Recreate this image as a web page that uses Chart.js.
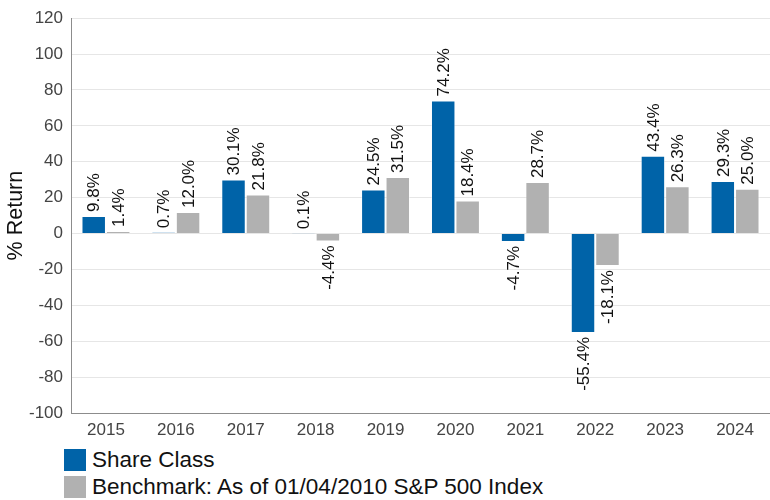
<!DOCTYPE html>
<html>
<head>
<meta charset="utf-8">
<script src="https://cdn.jsdelivr.net/npm/chart.js@4"></script>
<style>
  body { margin: 0; background: #fff; overflow: hidden; font-family: "Liberation Sans", Arial, sans-serif; }
  #legend { margin: 9px 0 0 64px; }
  .item { display: flex; align-items: center; height: 22px; margin-bottom: 5px; font-size: 22.5px; color: #111; }
  .box { width: 22px; height: 22px; margin-right: 6px; flex: none; }
</style>
</head>
<body>
<canvas id="returns-chart" width="770" height="440"></canvas>
<div id="legend"></div>
<script>
// categories and series
const years = ["2015", "2016", "2017", "2018", "2019", "2020", "2021", "2022", "2023", "2024"];
const shareClass = [9.8, 0.7, 30.1, 0.1, 24.5, 74.2, -4.7, -55.4, 43.4, 29.3];
const benchmark = [1.4, 12.0, 21.8, -4.4, 31.5, 18.4, 28.7, -18.1, 26.3, 25.0];
const seriesNames = ["Share Class", "Benchmark: As of 01/04/2010 S&P 500 Index"];
const seriesColors = ["#0063a8", "#b1b1b1"];

// rotated value labels at the end of each bar
const barLabels = {
    id: 'barLabels',
    afterDatasetsDraw(chart) {
        const ctx = chart.ctx;
        ctx.save();
        ctx.font = '17px "Liberation Sans", Arial, sans-serif';
        ctx.fillStyle = '#111';
        ctx.textBaseline = 'middle';
        chart.data.datasets.forEach((ds, i) => {
            chart.getDatasetMeta(i).data.forEach((bar, j) => {
                const v = ds.data[j];
                const txt = v.toFixed(1) + '%';
                ctx.save();
                if (v >= 0) {
                    ctx.translate(bar.x, bar.y - 4);
                    ctx.rotate(-Math.PI / 2);
                    ctx.textAlign = 'left';
                } else {
                    ctx.translate(bar.x, bar.y + 4);
                    ctx.rotate(-Math.PI / 2);
                    ctx.textAlign = 'right';
                }
                ctx.fillText(txt, 0, 1);
                ctx.restore();
            });
        });
        ctx.restore();
    }
};

const font = '"Liberation Sans", Arial, sans-serif';

const chart = new Chart(document.getElementById('returns-chart'), {
    type: 'bar',
    data: {
        labels: years,
        datasets: [{
            label: seriesNames[0],
            data: shareClass,
            backgroundColor: seriesColors[0],
            borderColor: 'rgba(255,255,255,0.45)',
            borderWidth: 1,
            categoryPercentage: 0.7,
            barPercentage: 1.0
        }, {
            label: seriesNames[1],
            data: benchmark,
            backgroundColor: seriesColors[1],
            borderColor: 'rgba(255,255,255,0.45)',
            borderWidth: 1,
            categoryPercentage: 0.7,
            barPercentage: 1.0
        }]
    },
    options: {
        responsive: false,
        animation: false,
        layout: { padding: { top: 14, right: 0, left: 0, bottom: 0 } },
        plugins: {
            legend: { display: false },
            tooltip: { enabled: false }
        },
        scales: {
            x: {
                grid: { display: false, drawTicks: false },
                border: { color: '#8c8c8c' },
                ticks: { color: '#444', font: { family: font, size: 17 }, padding: 7 },
                afterFit: s => { s.height = 27; }
            },
            y: {
                min: -100,
                max: 120,
                ticks: { stepSize: 20, color: '#444', font: { family: font, size: 17 }, padding: 8 },
                grid: { color: '#e6e6e6', drawTicks: false },
                border: { color: '#8c8c8c' },
                title: { display: true, text: '% Return', color: '#111', font: { family: font, size: 21.5 }, padding: { top: 3, bottom: 4 } },
                afterFit: s => { s.width = 71; }
            }
        }
    },
    plugins: [barLabels]
});

// legend, one row per series
const legend = document.getElementById('legend');
seriesNames.forEach((name, i) => {
    legend.innerHTML += `<div class="item"><div class="box" style="background:${seriesColors[i]}"></div>${name}</div>`;
});
</script>
</body>
</html>
